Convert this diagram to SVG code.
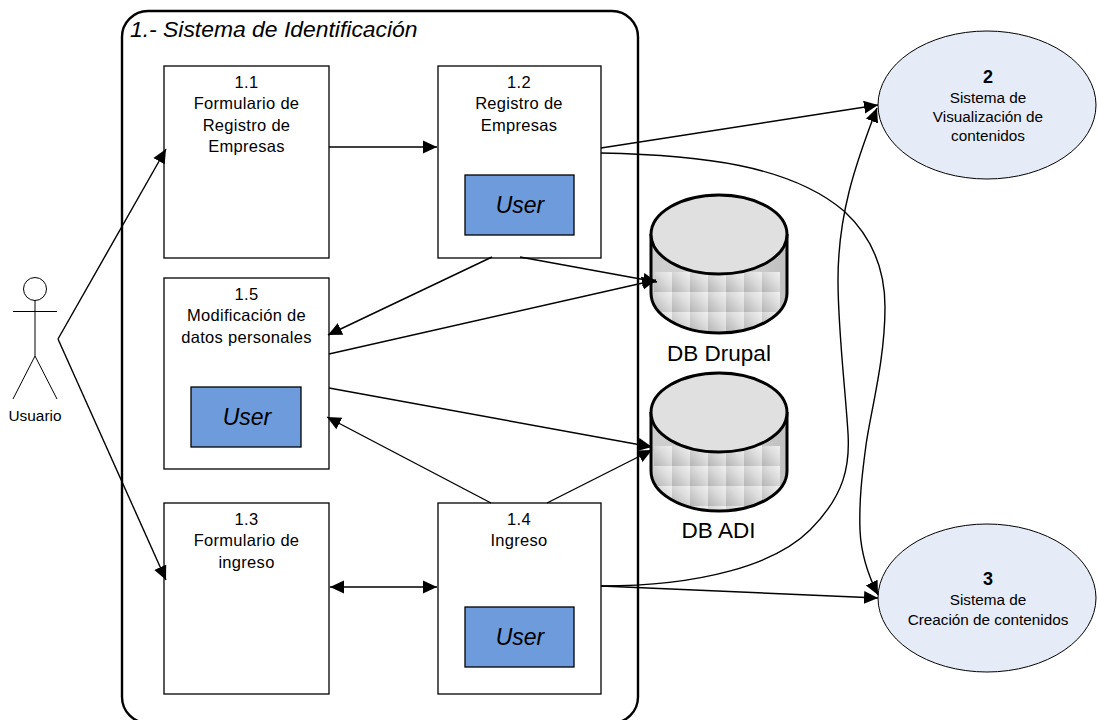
<svg xmlns="http://www.w3.org/2000/svg" width="1098" height="720" viewBox="0 0 1098 720">
<style>
text{font-family:"Liberation Sans",Arial,sans-serif;fill:#000;text-anchor:middle}
.box{fill:#fff;stroke:#000;stroke-width:1.3}
.t{font-size:16.5px;letter-spacing:.3px}
.user{fill:#6d9bdb;stroke:#000;stroke-width:1.3}
.ut{font-size:23px;font-style:italic}
.c{fill:none;stroke:#000;stroke-width:1.4}
.oval{fill:#e6ecf7;stroke:#000;stroke-width:1}
.db{font-size:22.5px}
.cyl{fill:none;stroke:#000;stroke-width:3}
.top{fill:#e0e0e0;stroke:#000;stroke-width:3}
.ac{fill:none;stroke:#000;stroke-width:1}
.os{font-size:15.3px}
.num{font-size:18px;font-weight:bold}
</style>
<defs>
<marker id="a" markerUnits="userSpaceOnUse" markerWidth="15" markerHeight="14" refX="14" refY="7" orient="auto-start-reverse"><path d="M0 0.500L14 7L0 13.500z" fill="#000"/></marker>
<linearGradient id="g" x1="0" y1="1" x2="1" y2="0"><stop offset="0" stop-color="#b4b4b4"/><stop offset=".6" stop-color="#dcdcdc"/><stop offset="1" stop-color="#f0f0f0"/></linearGradient>
<linearGradient id="side" x1="0" y1="0" x2="1" y2="0"><stop offset="0" stop-color="#cccccc"/><stop offset=".5" stop-color="#d8d8d8"/><stop offset="1" stop-color="#c0c0c0"/></linearGradient>
<pattern id="tiles" patternUnits="userSpaceOnUse" x="654" y="272" width="18" height="20"><rect width="18" height="20" fill="url(#g)"/></pattern>
<pattern id="tiles2" patternUnits="userSpaceOnUse" x="654" y="446" width="18" height="20"><rect width="18" height="20" fill="url(#g)"/></pattern>
<clipPath id="cd"><path d="M651 234V293C651 315 681 333 719 333S787 315 787 293V234z"/></clipPath>
<clipPath id="ca"><path d="M651 412V471C651 493 681 511 719 511S787 493 787 471V412z"/></clipPath>
</defs>
<g id="system"><rect x="122" y="11" width="516" height="712" rx="26" fill="#fff" stroke="#000" stroke-width="2.4"/><text x="130" y="37" style="font-size:22.9px;font-style:italic;text-anchor:start">1.- Sistema de Identificación</text></g>
<g id="n11"><rect class="box" x="164" y="66" width="165" height="192"/><text class="t" x="246.500" y="88">1.1</text><text class="t" x="246.500" y="109">Formulario de</text><text class="t" x="246.500" y="131">Registro de</text><text class="t" x="246.500" y="152">Empresas</text></g>
<g id="n12"><rect class="box" x="438" y="66" width="163" height="192"/><text class="t" x="519" y="88">1.2</text><text class="t" x="519" y="109">Registro de</text><text class="t" x="519" y="131">Empresas</text><rect class="user" x="465" y="175" width="109" height="60"/><text class="ut" x="520" y="213">User</text></g>
<g id="n15"><rect class="box" x="164" y="278" width="165" height="191"/><text class="t" x="246.500" y="300">1.5</text><text class="t" x="246.500" y="321">Modificación de</text><text class="t" x="246.500" y="343">datos personales</text><rect class="user" x="191" y="387" width="110" height="60"/><text class="ut" x="247" y="425">User</text></g>
<g id="n13"><rect class="box" x="164" y="503" width="165" height="191"/><text class="t" x="246.500" y="525">1.3</text><text class="t" x="246.500" y="546">Formulario de</text><text class="t" x="246.500" y="568">ingreso</text></g>
<g id="n14"><rect class="box" x="438" y="503" width="163" height="191"/><text class="t" x="519" y="525">1.4</text><text class="t" x="519" y="546">Ingreso</text><rect class="user" x="465" y="607" width="109" height="60"/><text class="ut" x="520" y="645">User</text></g>
<g id="dbdrupal"><g clip-path="url(#cd)"><rect x="651" y="234" width="136" height="100" fill="url(#side)"/><rect x="654" y="272" width="126" height="62" fill="url(#tiles)"/></g><path class="cyl" d="M651 234V293C651 315 681 333 719 333S787 315 787 293V234"/><ellipse class="top" cx="719" cy="234.500" rx="68" ry="39.500"/><text class="db" x="719" y="361">DB Drupal</text></g>
<g id="dbadi"><g clip-path="url(#ca)"><rect x="651" y="412" width="136" height="100" fill="url(#side)"/><rect x="654" y="446" width="126" height="66" fill="url(#tiles2)"/></g><path class="cyl" d="M651 412V471C651 493 681 511 719 511S787 493 787 471V412"/><ellipse class="top" cx="719" cy="412.500" rx="68" ry="39.500"/><text class="db" x="718.500" y="538">DB ADI</text></g>
<g id="n2"><ellipse class="oval" cx="987" cy="105" rx="109" ry="74"/><text class="num" x="988" y="83">2</text><text class="os" x="988" y="103">Sistema de</text><text class="os" x="988" y="122">Visualización de</text><text class="os" x="988" y="141">contenidos</text></g>
<g id="n3"><ellipse class="oval" cx="987" cy="598" rx="109" ry="74"/><text class="num" x="988" y="585">3</text><text class="os" x="988" y="605">Sistema de</text><text class="os" x="988" y="625">Creación de contenidos</text></g>
<g id="usuario"><circle class="ac" cx="35" cy="289" r="11.500"/><path class="ac" d="M35 300.500V356M13 311.500H57M35 356L13 399M35 356L57 399"/><text x="35" y="421" style="font-size:15.400px">Usuario</text></g>
<g id="connectors">
<path class="c" marker-end="url(#a)" d="M58 339L166 149"/>
<path class="c" marker-end="url(#a)" d="M58 339L166 580"/>
<path class="c" marker-end="url(#a)" d="M329 147H437"/>
<path class="c" marker-start="url(#a)" marker-end="url(#a)" d="M330 587H437"/>
<path class="c" marker-end="url(#a)" d="M601 148L878 105"/>
<path class="c" marker-end="url(#a)" d="M601 153C700 155 790 165 844 211C870 235 885 265 885 307C885 360 871 410 866 445C862 475 859 500 860 530C861 555 868 575 878 595"/>
<path class="c" marker-end="url(#a)" d="M601 586C700 586 775 565 810 530C845 495 850 465 848 433C845 385 838 330 838 280C838 215 855 165 877 108"/>
<path class="c" marker-end="url(#a)" d="M601 586L878 598"/>
<path class="c" marker-end="url(#a)" d="M520 257L657 282"/>
<path class="c" marker-end="url(#a)" d="M492 257L328 335"/>
<path class="c" marker-end="url(#a)" d="M329 354L656 280"/>
<path class="c" marker-end="url(#a)" d="M329 388L652 447"/>
<path class="c" marker-end="url(#a)" d="M491 503L327 417"/>
<path class="c" marker-end="url(#a)" d="M547 503L652 450"/>
</g>
</svg>
